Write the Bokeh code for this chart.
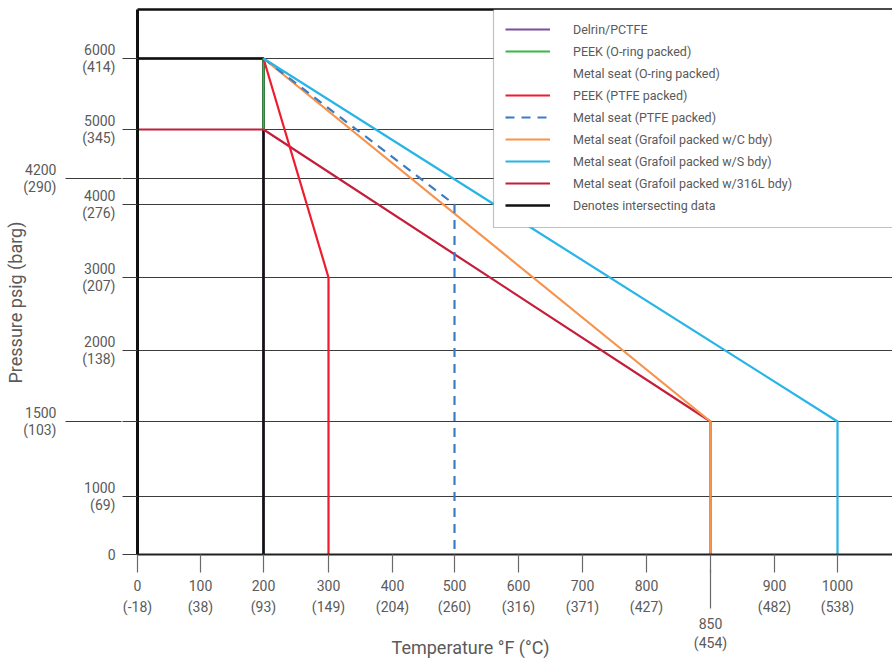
import numpy as np
from bokeh.plotting import figure
from bokeh.models import (LinearAxis, FixedTicker, Range1d, BoxAnnotation,
                          Legend, LegendItem, Title, Grid)
from bokeh.embed import file_html
from bokeh.resources import INLINE

# ---------------- data ----------------
X_TICKS = [0, 100, 200, 300, 400, 500, 600, 700, 800, 850, 900, 1000]
X_TICKS_C = ["-18", "38", "93", "149", "204", "260", "316", "371", "427", "454", "482", "538"]
Y_TICKS = [0, 1000, 1500, 2000, 3000, 4000, 4200, 5000, 6000]
Y_TICKS_BAR = ["", "69", "103", "138", "207", "276", "290", "345", "414"]

delrin_t = [0, 200, 200]
delrin_p = [6000, 6000, 0]
peek_oring_t = [200, 200]
peek_oring_p = [6000, 5000]
metal_oring_t = []
metal_oring_p = []
peek_ptfe_t = [200, 300, 300]
peek_ptfe_p = [6000, 3000, 0]
metal_ptfe_t = [200, 500, 500]
metal_ptfe_p = [6000, 4000, 0]
c_bdy_t = [200, 850, 850]
c_bdy_p = [6000, 1500, 0]
s_bdy_t = [200, 1000, 1000]
s_bdy_p = [6000, 1500, 0]
l316_bdy_t = [0, 200, 850, 850]
l316_bdy_p = [5000, 5000, 1500, 0]
intersect_t = [0, 200, 200]
intersect_p = [6000, 6000, 0]

X_TITLE = "Temperature °F (°C)"
Y_TITLE = "Pressure psig (barg)"

# ------------- layout (axis slot positions, px along axis) -------------
X_POS = [0, 63, 126, 191, 255, 317, 381, 445, 509, 573, 637, 700]
Y_POS = [0, 58, 133, 204, 277, 350, 376, 425, 496]
OUTER_Y = [1500, 4200]
OUTER_X = [850]
X_TITLE_POS = 333


def fx(t):
    return np.interp(np.asarray(t, dtype=float), X_TICKS, X_POS)


def fy(v):
    return np.interp(np.asarray(v, dtype=float), Y_TICKS, Y_POS)


FONT = "Roboto"
TXT = "#5a5a5a"

W, H = 892, 661
BL, BT = 137, 9
FRAME_H = 545
BB = H - BT - FRAME_H
FRAME_W = W - BL

p = figure(width=W, height=H, x_range=Range1d(0, FRAME_W), y_range=Range1d(0, FRAME_H),
           x_axis_type=None, y_axis_type=None, toolbar_location=None,
           output_backend="svg", min_border_left=BL, min_border_right=0,
           min_border_top=BT, min_border_bottom=BB, outline_line_color=None,
           background_fill_color="white")

# horizontal grid lines
p.add_layout(Grid(dimension=1, ticker=FixedTicker(ticks=Y_POS),
                  grid_line_color="#3c3c3c", grid_line_width=1.2))


def style_axis(ax):
    ax.major_label_text_font = FONT
    ax.major_label_text_font_size = "14px"
    ax.major_label_text_color = TXT
    ax.minor_tick_line_color = None
    ax.minor_tick_out = 0
    ax.minor_tick_in = 0


def ylab(v, b):
    return f"{v}\n({b})" if b else f"{v}"


# inner left axis
yA = LinearAxis(ticker=FixedTicker(ticks=Y_POS),
                major_label_overrides={pos: ("" if v in OUTER_Y else ylab(v, b))
                                       for v, b, pos in zip(Y_TICKS, Y_TICKS_BAR, Y_POS)},
                major_tick_out=15, major_tick_in=0, major_label_standoff=7,
                axis_line_color="#111111", axis_line_width=3,
                major_tick_line_color="#3c3c3c", major_tick_line_width=1.2)
style_axis(yA)
yA.major_label_text_line_height = 1.09
p.add_layout(yA, "left")

# outer left axis (long ticks)
yB = LinearAxis(ticker=FixedTicker(ticks=[pos for v, pos in zip(Y_TICKS, Y_POS) if v in OUTER_Y]),
                major_label_overrides={pos: ylab(v, b)
                                       for v, b, pos in zip(Y_TICKS, Y_TICKS_BAR, Y_POS) if v in OUTER_Y},
                major_tick_out=14, major_tick_in=42, major_label_standoff=9,
                axis_line_color=None,
                major_tick_line_color="#3c3c3c", major_tick_line_width=1.2)
style_axis(yB)
yB.major_label_text_line_height = 1.09
p.add_layout(yB, "left")

# y title (outermost on the left)
p.add_layout(Title(text=Y_TITLE, align="left", vertical_align="top",
                   offset=171, standoff=-14, text_font=FONT, text_font_size="18px",
                   text_font_style="normal", text_color=TXT), "left")

# inner bottom axis
xC = LinearAxis(ticker=FixedTicker(ticks=X_POS),
                major_label_overrides={pos: ("" if t in OUTER_X else f"{t}\n({c})")
                                       for t, c, pos in zip(X_TICKS, X_TICKS_C, X_POS)},
                major_tick_out=18, major_tick_in=0, major_label_standoff=5,
                axis_line_color="#222222", axis_line_width=2,
                major_tick_line_color="#6a6a6a", major_tick_line_width=1.2)
style_axis(xC)
xC.major_label_text_line_height = 1.33
p.add_layout(xC, "below")

# outer bottom axis (long tick at 850)
xD = LinearAxis(ticker=FixedTicker(ticks=[pos for t, pos in zip(X_TICKS, X_POS) if t in OUTER_X]),
                major_label_overrides={pos: f"{t}\n({c})"
                                       for t, c, pos in zip(X_TICKS, X_TICKS_C, X_POS) if t in OUTER_X},
                major_tick_out=-9, major_tick_in=48, major_label_standoff=-2,
                axis_line_color=None,
                major_tick_line_color="#6a6a6a", major_tick_line_width=1.2)
style_axis(xD)
xD.major_label_text_line_height = 1.2
p.add_layout(xD, "below")

# x title band (centred under the plotted data)
xE = LinearAxis(ticker=FixedTicker(ticks=[X_TITLE_POS]),
                major_label_overrides={X_TITLE_POS: X_TITLE},
                major_tick_out=0, major_tick_in=0, major_label_standoff=-17,
                axis_line_color=None, major_tick_line_color=None)
style_axis(xE)
xE.major_label_text_font_size = "18px"
xE.major_label_text_line_height = 1.0
p.add_layout(xE, "below")

# top border
top = LinearAxis(ticker=FixedTicker(ticks=[]), major_label_text_font_size="0px",
                 major_tick_out=0, major_tick_in=0, major_label_standoff=0,
                 minor_tick_out=0, minor_tick_in=0,
                 axis_line_color="#111111", axis_line_width=2.5)
p.add_layout(top, "above")

# series
r_delrin = p.line(fx(delrin_t), fy(delrin_p), line_color="#7b4fa0", line_width=2.2)
r_black = p.line(fx(intersect_t), fy(intersect_p), line_color="#111111", line_width=2.6)
r_green = p.line(fx(peek_oring_t), fy(peek_oring_p), line_color="#3bb54a", line_width=2.2)
r_blank = p.line(fx(metal_oring_t), fy(metal_oring_p), line_color="white", line_alpha=0)
r_316 = p.line(fx(l316_bdy_t), fy(l316_bdy_p), line_color="#c41e3a", line_width=2.2)
r_peek = p.line(fx(peek_ptfe_t), fy(peek_ptfe_p), line_color="#ed1c2e", line_width=2.2)
r_orange = p.line(fx(c_bdy_t), fy(c_bdy_p), line_color="#f7934c", line_width=2.2)
r_dash = p.line(fx(metal_ptfe_t), fy(metal_ptfe_p), line_color="#3b7dc4", line_width=2.2,
                line_dash="9 7")
r_cyan = p.line(fx(s_bdy_t), fy(s_bdy_p), line_color="#27b4e6", line_width=2.2)

# legend box
p.add_layout(BoxAnnotation(left=356, bottom=FRAME_H - 218, right=FRAME_W + 20,
                           fill_color="white", fill_alpha=1.0,
                           line_color="#333333", line_width=1.2))

items = [
    LegendItem(label="Delrin/PCTFE", renderers=[r_delrin]),
    LegendItem(label="PEEK (O-ring packed)", renderers=[r_green]),
    LegendItem(label="Metal seat (O-ring packed)", renderers=[r_blank]),
    LegendItem(label="PEEK (PTFE packed)", renderers=[r_peek]),
    LegendItem(label="Metal seat (PTFE packed)", renderers=[r_dash]),
    LegendItem(label="Metal seat (Grafoil packed w/C bdy)", renderers=[r_orange]),
    LegendItem(label="Metal seat (Grafoil packed w/S bdy)", renderers=[r_cyan]),
    LegendItem(label="Metal seat (Grafoil packed w/316L bdy)", renderers=[r_316]),
    LegendItem(label="Denotes intersecting data", renderers=[r_black]),
]
legend = Legend(items=items, location=(356, FRAME_H - 216), label_text_font=FONT,
                label_text_font_size="12.5px", label_text_color=TXT,
                glyph_width=45, glyph_height=16, label_height=16, label_standoff=23,
                spacing=6, padding=12, margin=0, border_line_alpha=0,
                background_fill_alpha=0)
p.add_layout(legend)

open("out.html", "w").write(file_html(p, INLINE))
